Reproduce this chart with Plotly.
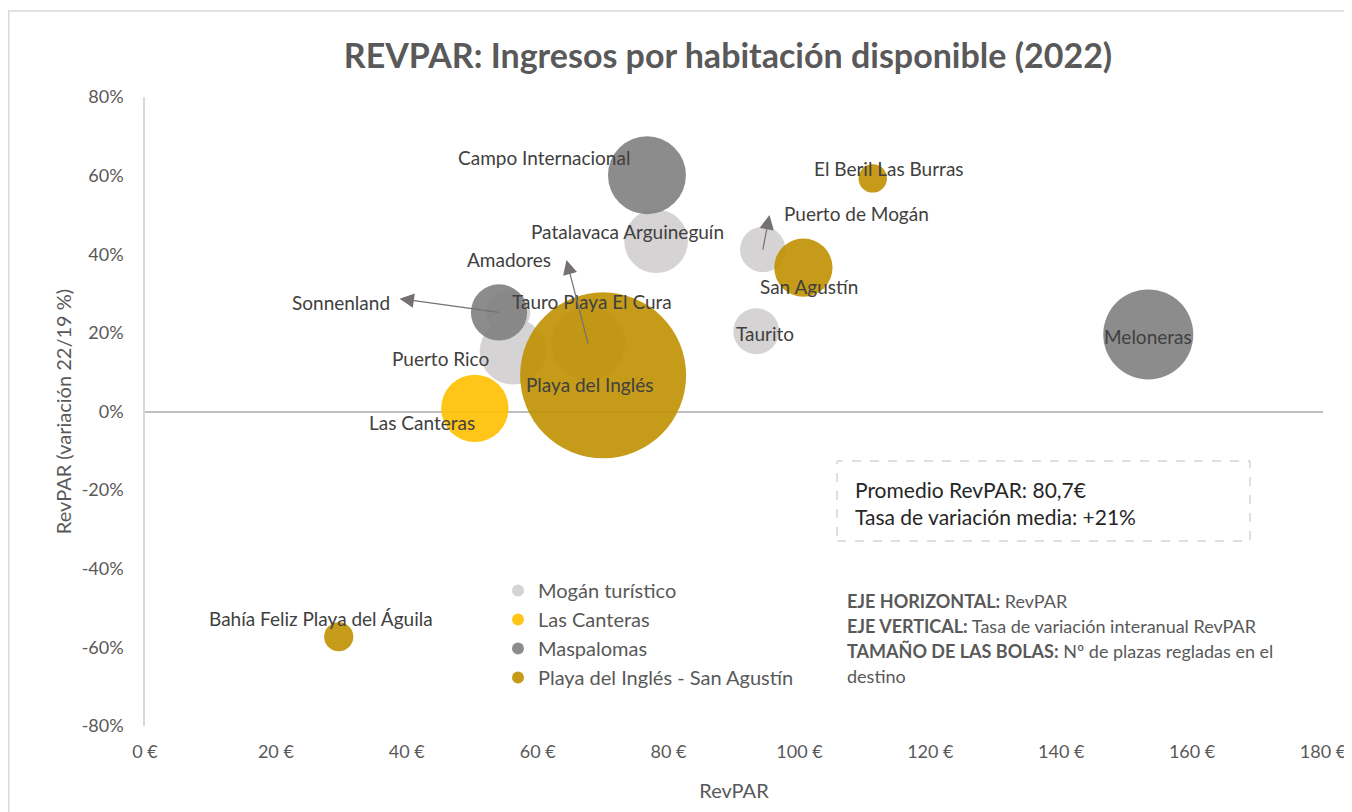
import plotly.graph_objects as go

# RevPAR (euros), variacion 22/19 y plazas regladas por zona
mogan_names = ["Patalavaca Arguineguín", "Puerto de Mogán", "Taurito",
               "Puerto Rico", "Tauro Playa El Cura", "Amadores"]
mogan_revpar = [78.1, 94.4, 93.4, 56.2, 55.5, 67.7]
mogan_var = [0.433, 0.412, 0.204, 0.153, 0.252, 0.173]
mogan_plazas = [5000, 2550, 2600, 5400, 2400, 6800]

canteras_names = ["Las Canteras"]
canteras_revpar = [50.4]
canteras_var = [0.008]
canteras_plazas = [5600]

maspalomas_names = ["Campo Internacional", "Sonnenland", "Meloneras"]
maspalomas_revpar = [76.7, 54.1, 153.3]
maspalomas_var = [0.601, 0.252, 0.196]
maspalomas_plazas = [7500, 3900, 10000]

pi_names = ["Playa del Inglés", "San Agustín", "El Beril Las Burras",
            "Bahía Feliz Playa del Águila"]
pi_revpar = [70.0, 100.6, 111.2, 29.6]
pi_var = [0.092, 0.366, 0.593, -0.573]
pi_plazas = [34000, 4200, 1000, 1050]

x_ticks = [0, 20, 40, 60, 80, 100, 120, 140, 160, 180]
x_labels = [f"{v} €" for v in x_ticks]
y_ticks = [-0.8, -0.6, -0.4, -0.2, 0, 0.2, 0.4, 0.6, 0.8]
y_labels = [f"{round(v * 100)}%" for v in y_ticks]

FONT = "Lato, 'Open Sans', sans-serif"
max_plazas = max(mogan_plazas + canteras_plazas + maspalomas_plazas + pi_plazas)
sizeref = max_plazas / (2 * 83 ** 2)

# the page body has an 8px margin, so screen px = figure px + 8
OFF = 8

# label offsets in px (dx, dy down) from each bubble centre
label_offsets = {
    "Campo Internacional": (-103, -18),
    "El Beril Las Burras": (16, -10),
    "Puerto de Mogán": (94, -36),
    "Patalavaca Arguineguín": (-29, -10),
    "Amadores": (-79, -84),
    "San Agustín": (6, 19),
    "Sonnenland": (-158, -10),
    "Tauro Playa El Cura": (84, -11),
    "Taurito": (9, 2),
    "Meloneras": (0, 2),
    "Puerto Rico": (-72, 7),
    "Playa del Inglés": (-14, 9),
    "Las Canteras": (-53, 14),
    "Bahía Feliz Playa del Águila": (-18, -18),
}
# leader arrows: head offset in px from bubble centre
arrows = {
    "Sonnenland": (-101, -14),
    "Amadores": (-22, -85),
    "Puerto de Mogán": (7, -36),
}

series = [
    ("Mogán turístico", mogan_names, mogan_revpar, mogan_var, mogan_plazas, "#D0CECE"),
    ("Las Canteras", canteras_names, canteras_revpar, canteras_var, canteras_plazas, "#FFC000"),
    ("Maspalomas", maspalomas_names, maspalomas_revpar, maspalomas_var, maspalomas_plazas, "#7F7F7F"),
    ("Playa del Inglés - San Agustín", pi_names, pi_revpar, pi_var, pi_plazas, "#BF9000"),
]


def px_x(x):
    # screen pixel -> paper x
    return (x - 145) / 1178


def px_y(y):
    # screen pixel -> paper y
    return (726 - y) / 629


fig = go.Figure()
annotations = []
for name, names, xs, ys, sizes, color in series:
    fig.add_trace(go.Scatter(
        x=xs, y=ys, mode='markers', name=name, text=names,
        marker=dict(size=sizes, sizemode='area', sizeref=sizeref,
                    color=color, opacity=0.9, line=dict(width=0)),
        hovertemplate='%{text}<br>%{x:.1f} €<br>%{y:.0%}<extra></extra>',
    ))
    for n, x, y in zip(names, xs, ys):
        dx, dy = label_offsets[n]
        annotations.append(dict(x=x, y=y, text=n, showarrow=False,
                                xshift=dx, yshift=-dy,
                                font=dict(family=FONT, size=19, color="#404040")))
        if n in arrows:
            ax, ay = arrows[n]
            annotations.append(dict(x=x, y=y, text='', showarrow=True,
                                    arrowside='start', ax=ax, ay=ay,
                                    startarrowhead=2, startarrowsize=2.4, arrowwidth=1.2,
                                    arrowcolor="#767171", standoff=0, startstandoff=0))

# texto del recuadro y notas
annotations.append(dict(xref='paper', yref='paper', x=px_x(853), y=px_y(503),
                        xanchor='left', yanchor='middle', align='left', showarrow=False,
                        text="Promedio RevPAR: 80,7€<br>Tasa de variación media: +21%",
                        font=dict(family=FONT, size=21, color="#262626")))
notes = ["<b>EJE HORIZONTAL:</b> RevPAR",
         "<b>EJE VERTICAL:</b> Tasa de variación interanual RevPAR",
         "<b>TAMAÑO DE LAS BOLAS:</b> Nº de plazas regladas en el",
         "destino"]
for i, line in enumerate(notes):
    annotations.append(dict(xref='paper', yref='paper', x=px_x(845),
                            y=px_y(601 + 25 * i),
                            xanchor='left', yanchor='middle', align='left', showarrow=False,
                            text=line, font=dict(family=FONT, size=18, color="#595959")))

fig.update_layout(
    width=1352, height=812,
    margin=dict(l=145 - OFF, r=1352 - 1323 + OFF, t=97 - OFF, b=812 - 726 + OFF),
    paper_bgcolor='white', plot_bgcolor='white',
    font=dict(family=FONT, color="#595959"),
    title=dict(text="<b>REVPAR: Ingresos por habitación disponible (2022)</b>",
               x=(728 - OFF) / 1352, xref='container', xanchor='center',
               y=1 - (56 - OFF) / 812, yref='container', yanchor='middle',
               font=dict(family=FONT, size=34, color="#595959")),
    xaxis=dict(range=[0, 180], tickvals=x_ticks, ticktext=x_labels,
               showgrid=False, zeroline=False, showline=False, ticks='',
               ticklabelstandoff=13,
               tickfont=dict(size=18, color="#595959"),
               title=dict(text="RevPAR", font=dict(size=20, color="#595959"), standoff=22)),
    yaxis=dict(range=[-0.8, 0.8], tickvals=y_ticks, ticktext=y_labels,
               showgrid=False, zeroline=True, zerolinecolor="#BFBFBF", zerolinewidth=1.5,
               showline=True, linecolor="#D9D9D9", linewidth=1.5, ticks='',
               ticklabelstandoff=16,
               tickfont=dict(size=18, color="#595959"),
               title=dict(text="RevPAR (variación 22/19 %)", font=dict(size=20, color="#595959"),
                          standoff=5)),
    legend=dict(x=px_x(498), y=px_y(571), xanchor='left', yanchor='top',
                bgcolor='rgba(0,0,0,0)', itemsizing='constant',
                font=dict(family=FONT, size=20, color="#595959"), tracegroupgap=0),
    shapes=[
        dict(type='rect', xref='paper', yref='paper',
             x0=px_x(837), x1=px_x(1250), y0=px_y(541), y1=px_y(461),
             line=dict(color="#BFBFBF", width=1, dash='dash')),
        dict(type='rect', xref='paper', yref='paper',
             x0=px_x(8.75), x1=1.1, y0=-0.3, y1=px_y(11),
             line=dict(color="#D9D9D9", width=1.5)),
    ],
    annotations=annotations,
    showlegend=True,
)

fig.write_html("out.html")
